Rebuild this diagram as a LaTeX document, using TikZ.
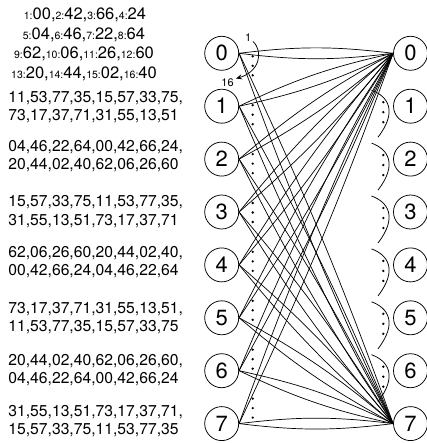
\documentclass[tikz,border=0pt]{standalone}
\usepackage{fontspec}
\setmainfont{TeX Gyre Heros}
\usetikzlibrary{arrows.meta}
\newcommand{\sm}[1]{{\fontsize{10.5}{10.5}\selectfont #1:}}
\begin{document}
\begin{tikzpicture}[x=1pt,y=-1pt,line width=0.75pt,
  vtx/.style={circle,draw,minimum size=34pt,inner sep=0pt,font=\fontsize{22}{22}\selectfont},
  seq/.style={anchor=base west,inner sep=0pt,font=\fontsize{15.7}{15.7}\selectfont},
  hdr/.style={anchor=base,inner sep=0pt,font=\fontsize{16.5}{16.5}\selectfont},
  lab/.style={inner sep=0pt,font=\fontsize{11}{11}\selectfont},
  edge/.style={line width=0.7pt}]
\useasboundingbox (0,0) rectangle (426,443);
% header
\node[hdr] (h1) at (85,20) {\sm{1}00,\sm{2}42,\sm{3}66,\sm{4}24};
\node[hdr] (h2) at (84,39.5) {\sm{5}04,\sm{6}46,\sm{7}22,\sm{8}64};
\node[hdr] (h3) at (84,59) {\sm{9}62,\sm{10}06,\sm{11}26,\sm{12}60};
\node[hdr] (h4) at (84,78.5) {\sm{13}20,\sm{14}44,\sm{15}02,\sm{16}40};
% sequences
\node[seq] (s1a) at (8,102.5) {11,53,77,35,15,57,33,75,};
\node[seq] (s1b) at (8,121) {73,17,37,71,31,55,13,51};
\node[seq] (s2a) at (8,151.5) {04,46,22,64,00,42,66,24,};
\node[seq] (s2b) at (8,170) {20,44,02,40,62,06,26,60};
\node[seq] (s3a) at (8,206.5) {15,57,33,75,11,53,77,35,};
\node[seq] (s3b) at (8,225) {31,55,13,51,73,17,37,71};
\node[seq] (s4a) at (8,257) {62,06,26,60,20,44,02,40,};
\node[seq] (s4b) at (8,275.5) {00,42,66,24,04,46,22,64};
\node[seq] (s5a) at (8,313) {73,17,37,71,31,55,13,51,};
\node[seq] (s5b) at (8,331.5) {11,53,77,35,15,57,33,75};
\node[seq] (s6a) at (8,365) {20,44,02,40,62,06,26,60,};
\node[seq] (s6b) at (8,383.5) {04,46,22,64,00,42,66,24};
\node[seq] (s7a) at (8,416) {31,55,13,51,73,17,37,71,};
\node[seq] (s7b) at (8,434.5) {15,57,33,75,11,53,77,35};
% vertices
\foreach \i in {0,...,7}{
  \node[vtx] (L\i) at (221.7,53.3+52.9*\i) {\i};
  \node[vtx] (R\i) at (410.5,53.3+52.9*\i) {\i};
}
% edges
\foreach \i in {0,...,7}{
  \foreach \j in {0,7}{
    \pgfmathsetmacro{\len}{veclen(155,52.9*(\j-\i))}
    \pgfmathsetmacro{\ang}{asin(min(1,5.5/(0.294*\len)))}
    \draw[edge] (L\i.east) to[bend left=\ang] (R\j.west);
    \draw[edge] (L\i.east) to[bend right=\ang] (R\j.west);
  }
}
% dots at left vertices
\foreach \i in {0,...,7}{
  \foreach \k in {0,1,2}{
    \fill (252.7,53.3+52.9*\i+3-4*\i+9.5*\k) circle (1.3pt);
  }
}
% ordering arc at L0
\draw[-{Stealth[length=6pt,width=5pt]}] (253,41.5) .. controls (264,52) and (259,72) .. (236,78.5);
\node[lab] (one) at (248.3,38) {1};
\node[lab] (sixteen) at (227.5,83) {16};
% arcs at right vertices
\foreach \k in {1,...,6}{
  \pgfmathsetmacro{\yy}{53.3+52.9*\k}
  \draw (371.5,\yy-16) .. controls (388,\yy-10) and (398,\yy+5) .. (378,\yy+31);
  \foreach \m in {0,1,2}{
    \fill (383.3,\yy-4+10*\m) circle (1.3pt);
  }
}
\end{tikzpicture}
\end{document}
